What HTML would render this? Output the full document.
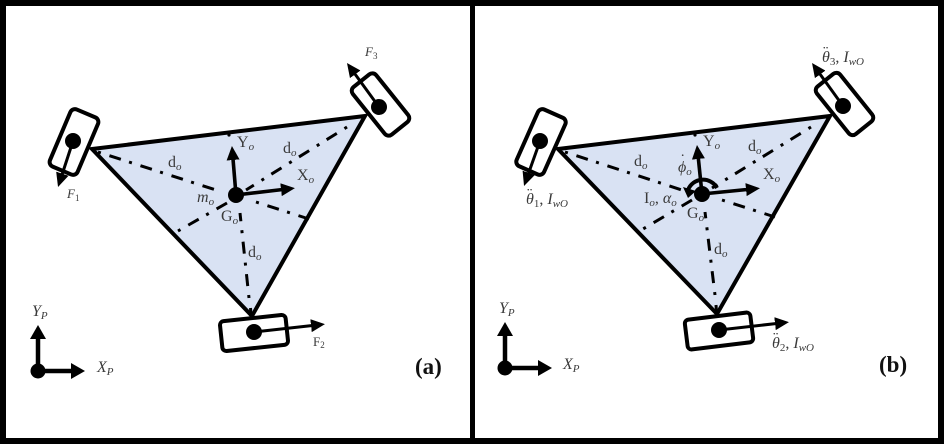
<!DOCTYPE html>
<html>
<head>
<meta charset="utf-8">
<style>
html,body{margin:0;padding:0;background:#fff;width:944px;height:444px;overflow:hidden}
svg{display:block;filter:blur(0.35px)}
text{font-family:"Liberation Serif","DejaVu Serif",serif;fill:#3a3a3a;font-size:16px}
.i{font-style:italic}
.s{font-size:11px}
.sm{font-size:13px}
.n{font-style:normal}
.b{font-weight:bold;font-size:23px;fill:#111}
.tri{fill:#d9e2f3;stroke:#000;stroke-width:4;stroke-linejoin:miter}
.dd{fill:none;stroke:#000;stroke-width:3;stroke-dasharray:3 9 12 8.6}
.d2{fill:none;stroke:#000;stroke-width:3;stroke-dasharray:12 9 3 8.6}
.w{fill:#fff;stroke:#000;stroke-width:4}
.a{stroke:#000;stroke-width:3;fill:none;marker-end:url(#h)}
.c{stroke:#000;stroke-width:3.6;fill:none;marker-end:url(#h)}
.f{stroke:#000;stroke-width:4.5;fill:none;marker-end:url(#H)}
</style>
</head>
<body>
<svg width="944" height="444" viewBox="0 0 944 444" xmlns="http://www.w3.org/2000/svg">
<defs>
<marker id="h" markerUnits="userSpaceOnUse" markerWidth="16" markerHeight="14" refX="6" refY="7" orient="auto"><polygon points="0,0.5 14,7 0,13.5" fill="#000"/></marker>
<marker id="H" markerUnits="userSpaceOnUse" markerWidth="18" markerHeight="18" refX="6" refY="8" orient="auto"><polygon points="0,0 14,8 0,16" fill="#000"/></marker>
</defs>
<rect width="944" height="444" fill="#fff"/>
<rect x="3" y="3" width="938" height="438" fill="none" stroke="#000" stroke-width="6"/>
<rect x="470" y="0" width="5" height="444" fill="#000"/>

<!-- panel a -->
<polygon class="tri" points="92,149 365,116 252,316"/>
<line class="dd" x1="98" y1="152" x2="219" y2="191"/>
<line class="dd" x1="347" y1="127" x2="246" y2="190"/>
<line class="dd" x1="249" y1="298" x2="240" y2="213"/>
<line class="d2" x1="227" y1="203" x2="178" y2="231"/>
<line class="dd" x1="256" y1="202" x2="309" y2="219"/>
<circle cx="229" cy="135" r="1.6"/>
<line x1="250.500" y1="308" x2="251" y2="315" stroke="#000" stroke-width="3"/>

<rect class="w" x="59" y="111" width="30" height="62" rx="5" transform="rotate(23 74 142)"/>
<rect class="w" x="365.500" y="74" width="30" height="61" rx="5" transform="rotate(-38.7 380.5 104.5)"/>
<rect class="w" x="221" y="318" width="66" height="30" rx="4" transform="rotate(-6 254 333)"/>
<circle cx="73" cy="141" r="8"/>
<circle cx="379" cy="107" r="8"/>
<circle cx="254" cy="332" r="8"/>
<line class="a" x1="73" y1="141" x2="60.5" y2="179.4"/>
<line class="a" x1="379" y1="107" x2="351.7" y2="69.5"/>
<line class="a" x1="254" y1="332" x2="317" y2="325"/>
<circle cx="236" cy="195" r="8"/>
<line class="c" x1="236" y1="195" x2="232.6" y2="154"/>
<line class="c" x1="236" y1="195" x2="287" y2="189"/>
<circle cx="38" cy="371" r="7.5"/>
<line class="f" x1="38" y1="371" x2="38" y2="333"/>
<line class="f" x1="38" y1="371" x2="77" y2="371"/>

<text x="168" y="167">d<tspan class="i s" dy="3">o</tspan></text>
<text x="283" y="153">d<tspan class="i s" dy="3">o</tspan></text>
<text x="248" y="257">d<tspan class="i s" dy="3">o</tspan></text>
<text x="237" y="147">Y<tspan class="i s" dy="3">o</tspan></text>
<text x="297" y="180">X<tspan class="i s" dy="3">o</tspan></text>
<text x="197" y="202" class="i">m<tspan class="s" dy="3">o</tspan></text>
<text x="221" y="221">G<tspan class="i s" dy="3">o</tspan></text>
<text x="67" y="198" class="i sm">F<tspan style="font-size:9px;font-style:normal" dy="3">1</tspan></text>
<text x="313" y="346" class="sm">F<tspan style="font-size:9px" dy="2">2</tspan></text>
<text x="365" y="56" class="i sm">F<tspan style="font-size:9px;font-style:normal" dy="3">3</tspan></text>
<text x="32" y="316" class="i">Y<tspan class="s" dy="3">P</tspan></text>
<text x="97" y="372" class="i">X<tspan class="s" dy="3">P</tspan></text>
<text x="415" y="374" class="b">(a)</text>

<!-- panel b -->
<polygon class="tri" points="558,149 830,116 717,314"/>
<line class="dd" x1="565" y1="152" x2="685" y2="191"/>
<line class="dd" x1="811" y1="127" x2="712" y2="188"/>
<line class="dd" x1="715" y1="295" x2="705" y2="212"/>
<line class="d2" x1="692" y1="200" x2="643" y2="229"/>
<line class="dd" x1="722" y1="200" x2="775" y2="217"/>
<circle cx="695" cy="135" r="1.6"/>
<line x1="716" y1="305" x2="716.500" y2="312" stroke="#000" stroke-width="3"/>

<rect class="w" x="526" y="111" width="30" height="62" rx="5" transform="rotate(24 541 142)"/>
<rect class="w" x="829.500" y="73.5" width="30" height="61" rx="5" transform="rotate(-38.7 844.5 104)"/>
<rect class="w" x="686" y="316" width="66" height="30" rx="4" transform="rotate(-7 719 331)"/>
<circle cx="540" cy="141" r="8"/>
<circle cx="843" cy="106" r="8"/>
<circle cx="719" cy="330" r="8"/>
<line class="a" x1="540" y1="141" x2="526.7" y2="178.5"/>
<line class="a" x1="843" y1="106" x2="816.7" y2="69.5"/>
<line class="a" x1="719" y1="330" x2="781" y2="323"/>
<path d="M717,188 A16,16 0 0 0 688,190" fill="none" stroke="#000" stroke-width="4"/>
<polygon points="683,187 696,191 688,198" fill="#000"/>
<circle cx="702" cy="194" r="8"/>
<line class="c" x1="702" y1="194" x2="697.8" y2="153"/>
<line class="c" x1="702" y1="194" x2="752" y2="189"/>
<circle cx="505" cy="368" r="7.5"/>
<line class="f" x1="505" y1="368" x2="505" y2="330"/>
<line class="f" x1="505" y1="368" x2="544" y2="368"/>

<text x="634" y="166">d<tspan class="i s" dy="3">o</tspan></text>
<text x="748" y="151">d<tspan class="i s" dy="3">o</tspan></text>
<text x="714" y="254">d<tspan class="i s" dy="3">o</tspan></text>
<text x="703" y="146">Y<tspan class="i s" dy="3">o</tspan></text>
<text x="763" y="179">X<tspan class="i s" dy="3">o</tspan></text>
<text x="678" y="172" class="i">ϕ<tspan class="s" dy="3">o</tspan></text>
<text x="680" y="165">˙</text>
<text x="644" y="203">I<tspan class="i s" dy="3">o</tspan><tspan dy="-3">, </tspan><tspan class="i">α</tspan><tspan class="i s" dy="3">o</tspan></text>
<text x="687" y="218">G<tspan class="i s" dy="3">o</tspan></text>
<text x="526" y="204" class="i">θ<tspan class="s n" dy="3">1</tspan><tspan dy="-3" class="n">, </tspan>I<tspan class="s" dy="3">wO</tspan></text>
<text x="527" y="199" class="n">¨</text>
<text x="772" y="348" class="i">θ<tspan class="s n" dy="3">2</tspan><tspan dy="-3" class="n">, </tspan>I<tspan class="s" dy="3">wO</tspan></text>
<text x="773" y="343" class="n">¨</text>
<text x="822" y="62" class="i">θ<tspan class="s n" dy="3">3</tspan><tspan dy="-3" class="n">, </tspan>I<tspan class="s" dy="3">wO</tspan></text>
<text x="823" y="57" class="n">¨</text>
<text x="499" y="313" class="i">Y<tspan class="s" dy="3">P</tspan></text>
<text x="563" y="369" class="i">X<tspan class="s" dy="3">P</tspan></text>
<text x="879" y="372" class="b">(b)</text>
</svg>
</body>
</html>
